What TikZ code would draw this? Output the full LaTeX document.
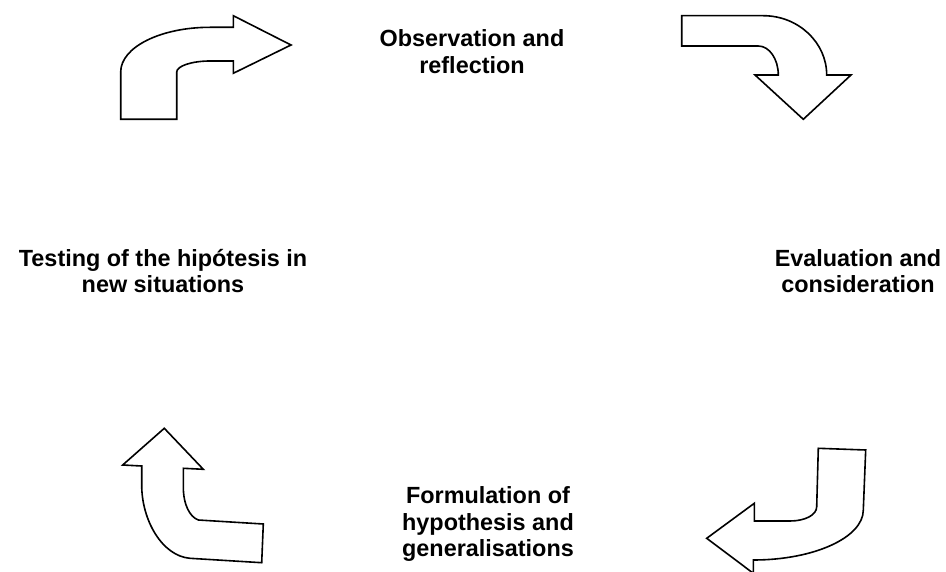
\documentclass[tikz,border=0pt]{standalone}
\usepackage{fontspec}
\setmainfont{Liberation Sans}
\begin{document}
\begin{tikzpicture}[x=1pt,y=-1pt,
  bentarrow/.style={draw=black,line width=1.6pt,line join=miter,fill=white},
  label/.style={font=\bfseries\fontsize{23.4}{26.6}\selectfont,align=center,inner sep=0pt,anchor=base}]
\useasboundingbox (0,0) rectangle (946,572);
\clip (0,0) rectangle (946,572);
% top-left arrow
\draw[bentarrow] (120.7,119.3) -- (176.7,119.3) -- (176.7,72)
  .. controls (176.7,66) and (192,61) .. (210,61) -- (233.3,61) -- (233.3,73.3)
  -- (291,45) -- (233.3,15.7) -- (233.3,27.3) -- (210,27.3)
  .. controls (161,27.3) and (120.7,47) .. (120.7,72) -- cycle;
% top-right arrow
\draw[bentarrow] (681.7,15.7) -- (763.3,15.7)
  .. controls (798.2,15.7) and (826.7,42.4) .. (826.7,75) -- (851,75)
  -- (803.3,119.3) -- (755,75) -- (778.3,75)
  .. controls (778.3,59) and (769.3,46) .. (758.3,46) -- (681.7,46) -- cycle;
% bottom-left arrow
\draw[bentarrow] (164.3,428.3) -- (203.3,469.3) -- (183.3,468.3) -- (183.3,486.7)
  .. controls (183.3,505) and (190,517) .. (198.3,520) -- (263.3,524)
  -- (261.7,562.7) -- (190,558.3)
  .. controls (162,556) and (141.7,520) .. (141.7,485) -- (141.7,466)
  -- (122.7,465) -- cycle;
% bottom-right arrow
\draw[bentarrow] (818.3,448.3) -- (865.7,450) -- (863.3,510)
  .. controls (863.3,537.5) and (814,560) .. (753.3,560) -- (753.3,573.3)
  -- (706.7,538.3) -- (754.3,503.3) -- (754.3,521) -- (790,521)
  .. controls (805,521) and (816.7,515) .. (816.7,506.7) -- cycle;
% labels (anchor = baseline of last line)
\node[label] (obs) at (472,73.5) {Observation and\\reflection};
\node[label] (test) at (163,292.7) {Testing of the hipótesis in\\new situations};
\node[label] (eval) at (858,292.7) {Evaluation and\\consideration};
\node[label] (form) at (488,556.7) {Formulation of\\hypothesis and\\generalisations};
\end{tikzpicture}
\end{document}
